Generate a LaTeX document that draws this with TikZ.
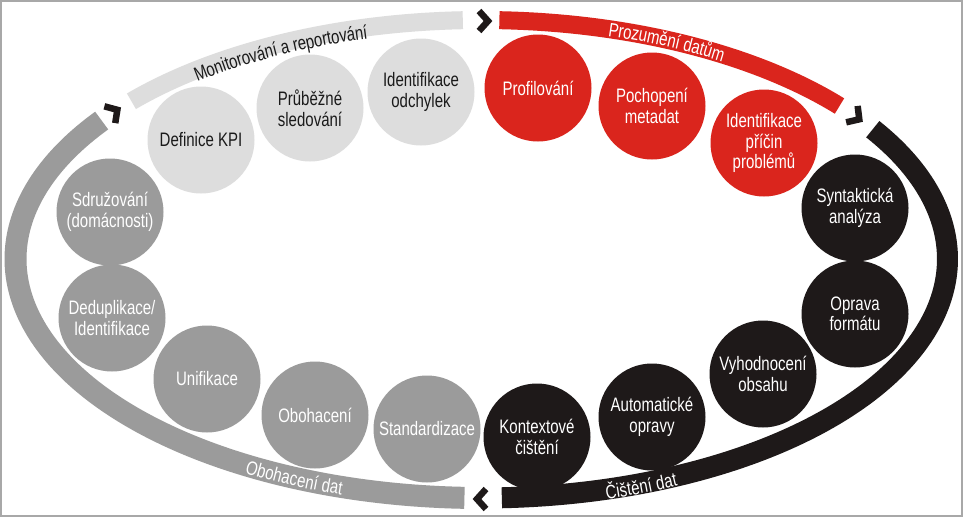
\documentclass[tikz,border=0pt]{standalone}
\usepackage{fontspec}
\newfontfamily\nar[FakeStretch=0.77]{Liberation Sans}
\usetikzlibrary{decorations.text}
\definecolor{lg}{HTML}{DDDDDD}
\definecolor{rd}{HTML}{DA251D}
\definecolor{bk}{HTML}{1E1919}
\definecolor{gr}{HTML}{9B9B9B}
\definecolor{fr}{HTML}{A8A8A8}
\definecolor{tx}{HTML}{1A1A1A}
\def\ecx{481.5}\def\ecy{259}\def\eax{466}\def\eby{239}
\begin{document}
\begin{tikzpicture}[x=1pt,y=-1pt,
  stage/.style={circle, minimum size=107pt, inner sep=0pt, align=center,
    font=\nar\fontsize{19.5}{20.5}\selectfont},
  lgs/.style={stage, fill=lg, text=tx},
  rds/.style={stage, fill=rd, text=white},
  bks/.style={stage, fill=bk, text=white},
  grs/.style={stage, fill=gr, text=white},
  band/.style={line cap=butt, line join=round},
  chev/.style={draw=bk, line width=6.5pt, miter limit=10, line join=miter, line cap=butt},
  blabel/.style={decorate, decoration={text along path, text align=center,
    text={|\nar\fontsize{19.5}{20}\selectfont|#1}}}
]
\useasboundingbox (0,0) rectangle (963,517);
\fill[white] (0,0) rectangle (963,517);
\draw[fr, line width=2pt] (1,1) rectangle (962,516);

% ring bands
\draw[band, lg, line width=18pt] plot[domain=138.7:92.3, samples=60] ({\ecx+\eax*cos(\x)},{\ecy-\eby*sin(\x)});
\draw[band, rd, line width=18pt] plot[domain=87.8:39.8, samples=60] ({\ecx+\eax*cos(\x)},{\ecy-\eby*sin(\x)});
\draw[band, bk, line width=21pt] plot[domain=32.9:-87.5, samples=120] ({\ecx+\eax*cos(\x)},{\ecy-\eby*sin(\x)});
\draw[band, gr, line width=22pt] plot[domain=-92.1:-215.4, samples=120] ({\ecx+\eax*cos(\x)},{\ecy-\eby*sin(\x)});

% band labels
\path[blabel={Monitorování a reportování}, decoration={raise=-11.5pt, text color=tx}]
  plot[domain=131.5:101.5, samples=40] ({\ecx+\eax*cos(\x)},{\ecy-\eby*sin(\x)});
\path[blabel={Prozumění datům}, decoration={raise=-7pt, text color=white}]
  plot[domain=85:46, samples=40] ({\ecx+\eax*cos(\x)},{\ecy-\eby*sin(\x)});
\path[blabel={Čištění dat}, decoration={raise=-10pt, text color=white}]
  plot[domain=-85:-54, samples=40] ({\ecx+\eax*cos(\x)},{\ecy-\eby*sin(\x)});
\path[blabel={Obohacení dat}, decoration={raise=-8pt, text color=white}]
  plot[domain=-132:-97, samples=40] ({\ecx+\eax*cos(\x)},{\ecy-\eby*sin(\x)});

% stages
\node[lgs] (kpi)  at (201,140) {Definice KPI};
\node[lgs] (prub) at (310,108) {Průběžné\\sledování};
\node[lgs] (odch) at (421,92)  {Identifikace\\odchylek};
\node[rds] (prof) at (538,88)  {Profilování};
\node[rds] (poch) at (652,106) {Pochopení\\metadat};
\node[rds] (pric) at (764,143) {Identifikace\\příčin\\problémů};
\node[bks] (synt) at (855,208) {Syntaktická\\analýza};
\node[bks] (oprf) at (855,314) {Oprava\\formátu};
\node[bks] (vyho) at (763,374) {Vyhodnocení\\obsahu};
\node[bks] (auto) at (652,417) {Automatické\\opravy};
\node[bks] (kont) at (537,437) {Kontextové\\čištění};
\node[grs] (stan) at (427,429) {Standardizace};
\node[grs] (oboh) at (315,415) {Obohacení};
\node[grs] (unif) at (207,379) {Unifikace};
\node[grs] (dedu) at (112,318) {Deduplikace/\\Identifikace};
\node[grs] (sdru) at (110,212) {Sdružování\\(domácnosti)};

% chevrons
\path[chev, shift={(484,21)}, rotate=0] (-5,-10) -- (4,0) -- (-5,10);
\path[chev, shift={(856,117)}, rotate=-35] (-5,-10) -- (4,0) -- (-5,10);
\path[chev, shift={(481,499)}, rotate=180] (-5,-10) -- (4,0) -- (-5,10);
\path[chev, shift={(114,112)}, rotate=33] (-5,-10) -- (4,0) -- (-5,10);
\end{tikzpicture}
\end{document}
